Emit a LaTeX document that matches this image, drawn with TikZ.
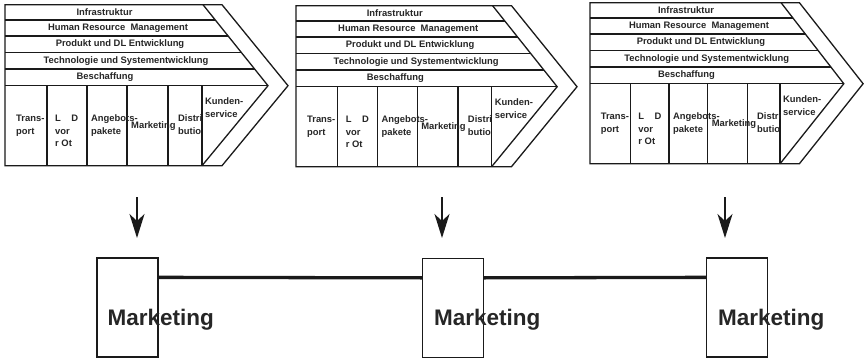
\documentclass[tikz,border=0pt]{standalone}
\usepackage{fontspec}
\setmainfont{Liberation Sans}
\usetikzlibrary{arrows.meta,calc}
\definecolor{ink}{HTML}{1A1A1A}
\definecolor{txt}{HTML}{262626}
\tikzset{
  chainline/.style={draw=ink,line width=1.3pt,line join=miter},
  rowtxt/.style={text=txt,inner sep=0pt,font=\fontsize{9.4}{11}\selectfont\bfseries},
  celltxt/.style={text=txt,inner sep=0pt,anchor=north west,align=left,font=\fontsize{9.4}{12.8}\selectfont\bfseries},
  mbox/.style={draw=ink,line width=1.3pt,minimum width=61pt,minimum height=99pt,inner sep=0pt},
  mtext/.style={text=txt,inner sep=0pt,anchor=base west,font=\fontsize{22.5}{26}\selectfont\bfseries},
  link/.style={draw=ink,line width=3.3pt},
  downarrow/.style={draw=ink,line width=1.4pt,-{Stealth[length=24pt,width=15pt,inset=7pt]}},
  chain/.pic={
    \draw[chainline] (0,0) -- (217,0) -- (283,81) -- (217,161) -- (0,161) -- cycle;
    \draw[chainline] (198,0) -- (263,81) -- (197,161);
    \foreach \yy in {15.3,31.3,47.6,64.3,81}
      \draw[chainline] (0,\yy) -- ({198+65*\yy/81},\yy);
    \foreach \xx in {42,82,122,163,197}
      \draw[chainline] (\xx,81) -- (\xx,161);
    \node[rowtxt] (-r1) at (99.5,7.7) {Infrastruktur};
    \node[rowtxt] (-r2) at (113,23.3) {Human Resource\ \ Management};
    \node[rowtxt] (-r3) at (115,39.5) {Produkt und DL Entwicklung};
    \node[rowtxt] (-r4) at (121,56) {Technologie und Systementwicklung};
    \node[rowtxt] (-r5) at (100,72.6) {Beschaffung};
    \node[celltxt] (-p1) at (11,109.9) {Trans-\\port};
    \node[celltxt] (-p2) at (50,109.9) {L\ \ \ \ D\\vor\\r Ot};
    \node[celltxt] (-p3) at (86,109.9) {Angebots-\\pakete};
    \node[celltxt] (-p4) at (126,116.6) {Marketing};
    \node[celltxt] (-p5) at (173,109.9) {Distri\\butio};
    \node[celltxt] (-p6) at (200,92.9) {Kunden-\\service};
  }
}
\begin{document}
\begin{tikzpicture}[x=1pt,y=-1pt]
\useasboundingbox[fill=white] (0,0) rectangle (864,361);
\pic (c1) at (5,4.7) {chain};
\pic[xscale=0.993] (c2) at (296,5.7) {chain};
\pic[xscale=0.965] (c3) at (590,2.7) {chain};

\node[mbox] (b1) at (127.5,307.5) {};
\node[mbox] (b2) at (453,308) {};
\node[mbox] (b3) at (737,307.5) {};

\node[mtext] (t1) at ($(b1.west)+(11,17.5)$) {Marketing};
\node[mtext] (t2) at ($(b2.west)+(12,17)$) {Marketing};
\node[mtext] (t3) at ($(b3.west)+(12,17.5)$) {Marketing};

\draw[link] ($(b1.north east)+(0,20)$) -- ($(b2.north west)+(0,20)$);
\draw[link] ($(b2.north east)+(0,20)$) -- ($(b3.north west)+(0,20)$);

\coordinate (s1) at (137,197);
\coordinate (e1) at (137,238);
\coordinate (s2) at (442,197);
\coordinate (e2) at (442,238);
\coordinate (s3) at (725,197);
\coordinate (e3) at (725,238);
\draw[downarrow] (s1) -- (e1);
\draw[downarrow] (s2) -- (e2);
\draw[downarrow] (s3) -- (e3);
\end{tikzpicture}
\end{document}
